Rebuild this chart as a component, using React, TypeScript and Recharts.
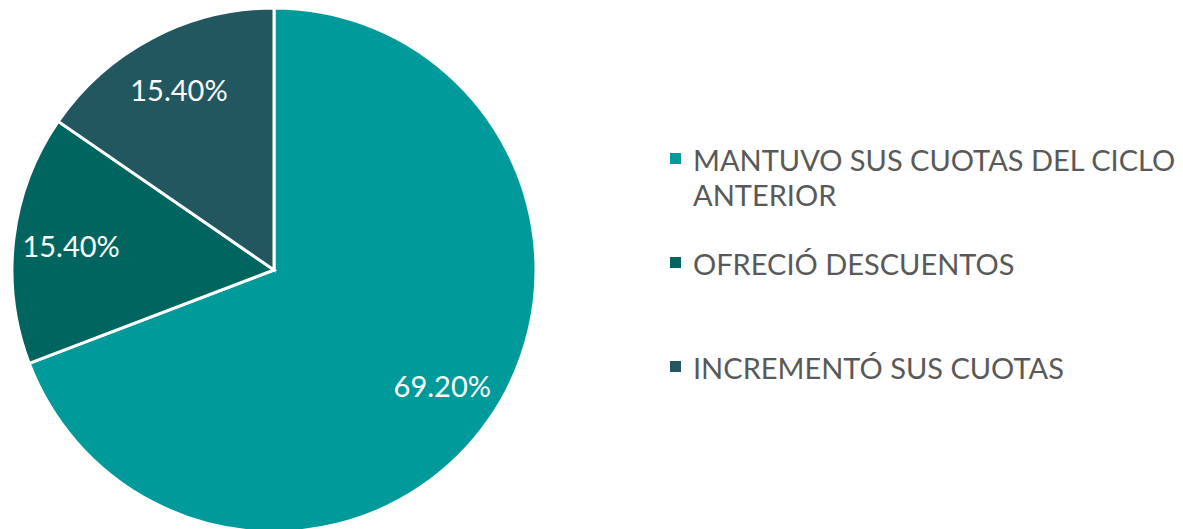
import { PieChart, Pie, Cell, Legend } from 'recharts';

const categories = ['MANTUVO SUS CUOTAS DEL CICLO ANTERIOR', 'OFRECIÓ DESCUENTOS', 'INCREMENTÓ SUS CUOTAS'];
const values = [69.2, 15.4, 15.4];
const colors = ['#009a9a', '#00655f', '#225760'];

const data = categories.map((name, i) => ({ name, value: values[i] }));

const RADIAN = Math.PI / 180;

const renderLabel = (props: any) => {
  const { cx, cy, midAngle, outerRadius, value } = props;
  const r = outerRadius * 0.78;
  const x = cx + r * Math.cos(-midAngle * RADIAN);
  const y = cy + r * Math.sin(-midAngle * RADIAN);
  return (
    <text x={x} y={y} fill="#fff" textAnchor="middle" dominantBaseline="central"
      style={{ fontFamily: 'Lato', fontSize: 29 }}>
      {value.toFixed(2)}%
    </text>
  );
};

const gaps = [34, 69, 0];

const renderLegend = () => (
  <div style={{ fontFamily: 'Lato', fontSize: 29, color: '#595959' }}>
    {data.map((d, i) => (
      <div key={d.name} style={{ display: 'flex', alignItems: 'flex-start', marginBottom: gaps[i], width: 510 }}>
        <div style={{ width: 11, height: 11, background: colors[i], marginTop: 11, marginRight: 12, flexShrink: 0 }} />
        <div style={{ lineHeight: '35px' }}>{d.name}</div>
      </div>
    ))}
  </div>
);

const App = () => {
  return (
    <div style={{ position: 'absolute', left: 0, top: 0 }}>
      <PieChart width={1183} height={529} margin={{ top: 0, right: 0, bottom: 0, left: 0 }}>
        <Pie
          data={data}
          dataKey="value"
          cx={274}
          cy={270}
          outerRadius={262}
          startAngle={90}
          endAngle={-270}
          stroke="#fff"
          strokeWidth={3}
          label={renderLabel}
          labelLine={false}
          isAnimationActive={false}
        >
          {data.map((d, i) => (
            <Cell key={d.name} fill={colors[i]} />
          ))}
        </Pie>
        <Legend content={renderLegend} layout="vertical" wrapperStyle={{ left: 670, top: 142, width: 512 }} />
      </PieChart>
    </div>
  );
};

export default App;
